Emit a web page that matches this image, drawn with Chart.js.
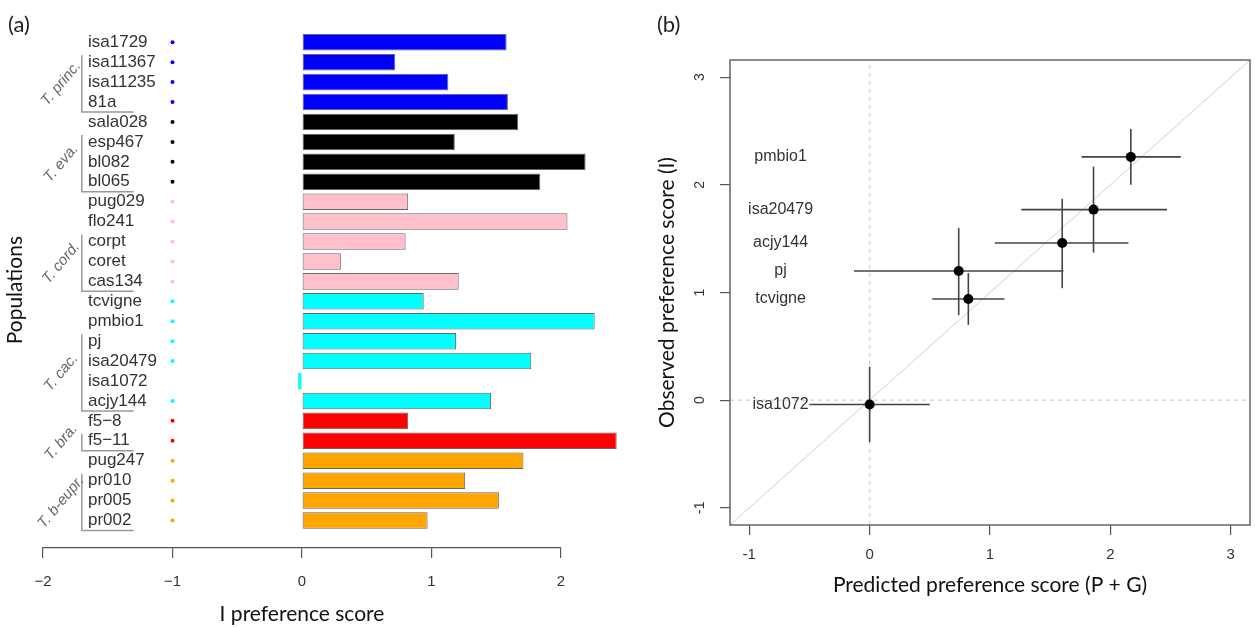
<!DOCTYPE html>
<html lang="en">
<head>
  <meta charset="UTF-8" />
  <title>Preference scores</title>
  <script src="https://cdn.jsdelivr.net/npm/chart.js"></script>
  <style>
    body {
      margin: 0;
      background: #fff;
    }
    .figure {
      position: relative;
      width: 1255px;
      height: 627px;
    }
    .panel-tag {
      position: absolute;
      top: 10px;
      font-family: Lato, sans-serif;
      font-size: 22px;
      color: #222;
    }
    #chartA { position: absolute; left: 0; top: 0; }
    #chartB { position: absolute; left: 640px; top: 0; }
  </style>
</head>
<body>
  <div class="figure">
    <canvas id="chartA" width="640" height="627"></canvas>
    <canvas id="chartB" width="615" height="627"></canvas>
    <div class="panel-tag" style="left: 8px;">(a)</div>
    <div class="panel-tag" style="left: 657px;">(b)</div>
  </div>

  <script>
    // ---- panel (a): I preference score per population ----
    const populations = ['isa1729', 'isa11367', 'isa11235', '81a', 'sala028', 'esp467', 'bl082', 'bl065',
      'pug029', 'flo241', 'corpt', 'coret', 'cas134', 'tcvigne', 'pmbio1', 'pj', 'isa20479', 'isa1072',
      'acjy144', 'f5\u22128', 'f5\u221211', 'pug247', 'pr010', 'pr005', 'pr002'];
    const iScores = [1.58, 0.72, 1.13, 1.59, 1.67, 1.18, 2.19, 1.84,
      0.82, 2.05, 0.80, 0.30, 1.21, 0.94, 2.26, 1.19, 1.77, -0.03,
      1.46, 0.82, 2.43, 1.71, 1.26, 1.52, 0.97];
    const barColors = ['#0000ff', '#0000ff', '#0000ff', '#0000ff', '#000000', '#000000', '#000000', '#000000',
      '#ffc0cb', '#ffc0cb', '#ffc0cb', '#ffc0cb', '#ffc0cb', '#00ffff', '#00ffff', '#00ffff', '#00ffff', '#00ffff',
      '#00ffff', '#ff0000', '#ff0000', '#ffa500', '#ffa500', '#ffa500', '#ffa500'];
    // small marker dots at -1 (none for isa1072)
    const dotX = [-1, -1, -1, -1, -1, -1, -1, -1, -1, -1, -1, -1, -1, -1, -1, -1, -1, null, -1, -1, -1, -1, -1, -1, -1];
    const speciesGroups = [
      { name: 'T. princ.', first: 1, last: 3 },
      { name: 'T. eva.', first: 5, last: 7 },
      { name: 'T. cord.', first: 10, last: 12 },
      { name: 'T. cac.', first: 15, last: 18 },
      { name: 'T. bra.', first: 20, last: 20 },
      { name: 'T. b-eupr.', first: 22, last: 24 }
    ];

    // ---- panel (b): observed vs predicted ----
    const predLabels = ['pmbio1', 'isa20479', 'acjy144', 'pj', 'tcvigne', 'isa1072'];
    const predicted = [2.17, 1.86, 1.60, 0.74, 0.82, 0.00];
    const predLow = [1.76, 1.26, 1.04, -0.13, 0.52, -0.50];
    const predHigh = [2.585, 2.47, 2.15, 1.61, 1.12, 0.50];
    const observed = [2.26, 1.77, 1.46, 1.20, 0.94, -0.04];
    const obsLow = [2.00, 1.37, 1.04, 0.79, 0.70, -0.39];
    const obsHigh = [2.52, 2.17, 1.87, 1.60, 1.18, 0.31];
    const axisRange = [-1.16, 3.16];

    const tickFont = { family: 'Liberation Sans, Arial, sans-serif', size: 15 };
    const titleFont = { family: 'Lato, sans-serif', size: 21 };

    const bracketPlugin = {
      id: 'brackets',
      afterDraw(chart) {
        const { ctx, scales: { x, y } } = chart;
        const bx = x.getPixelForValue(-1.70);
        const ex = x.getPixelForValue(-1.30);
        const lx = x.getPixelForValue(-1.86);
        ctx.save();
        ctx.strokeStyle = '#999';
        ctx.lineWidth = 1.5;
        ctx.fillStyle = '#666';
        ctx.font = 'italic 15px "Liberation Sans", Arial, sans-serif';
        ctx.textAlign = 'center';
        ctx.textBaseline = 'middle';
        speciesGroups.forEach(g => {
          const top = y.getPixelForValue(g.first - 0.35);
          const bot = y.getPixelForValue(g.last + 0.5);
          ctx.beginPath();
          ctx.moveTo(bx, top);
          ctx.lineTo(bx, bot);
          ctx.lineTo(ex, bot);
          ctx.stroke();
          ctx.save();
          ctx.translate(lx, (top + bot) / 2);
          ctx.rotate(-50 * Math.PI / 180);
          ctx.fillText(g.name, 0, 0);
          ctx.restore();
        });
        ctx.restore();
      }
    };

    const dotPoints = [];
    const dotColors = [];
    dotX.forEach((v, i) => {
      if (v !== null) {
        dotPoints.push({ x: v, y: i });
        dotColors.push(barColors[i]);
      }
    });

    new Chart(document.getElementById('chartA'), {
      type: 'bar',
      data: {
        datasets: [{
          type: 'bar',
          data: iScores.map((v, i) => ({ x: v, y: i })),
          backgroundColor: barColors,
          borderColor: '#666',
          // the tiny isa1072 sliver shows only its fill
          borderWidth: c => (Math.abs(iScores[c.dataIndex]) < 0.05 ? 0 : 1),
          borderSkipped: false,
          barPercentage: 0.83,
          categoryPercentage: 1,
          clip: false
        }, {
          type: 'scatter',
          data: dotPoints,
          pointBackgroundColor: dotColors,
          pointBorderWidth: 0,
          pointRadius: 2
        }]
      },
      options: {
        indexAxis: 'y',
        responsive: false,
        animation: false,
        devicePixelRatio: 1,
        layout: { padding: { top: 32.3, right: 79, bottom: 0, left: 0 } },
        plugins: { legend: { display: false }, tooltip: { enabled: false } },
        scales: {
          x: {
            type: 'linear',
            offset: false,
            min: -2,
            max: 2,
            ticks: { stepSize: 1, font: tickFont, color: '#333', padding: 15,
              callback: v => String(v).replace('-', '\u2212') },
            grid: { offset: false, drawOnChartArea: false, tickLength: 10, color: '#555', lineWidth: 1.2 },
            border: { display: true, color: '#555', width: 1.2 },
            title: { display: true, text: 'I preference score', font: titleFont, color: '#111', padding: { top: 0, bottom: 0 } },
            afterFit: s => { s.height = 79; }
          },
          y: {
            type: 'linear',
            offset: false,
            reverse: true,
            min: -0.5,
            max: 25.38,
            afterBuildTicks: s => { s.ticks = populations.map((_, i) => ({ value: i })); },
            ticks: { mirror: true, padding: 45, color: '#333', autoSkip: false,
              font: { family: 'Liberation Sans, Arial, sans-serif', size: 17 },
              callback: v => populations[v] },
            grid: { display: false, offset: false },
            border: { display: false },
            title: { display: true, text: 'Populations', font: titleFont, color: '#111', padding: { top: 2.4, bottom: 0 } },
            // label padding is only used to push the names inward, not to pad the plot
            afterFit: s => { s.width = 43; s.paddingTop = 0; s.paddingBottom = 0; }
          }
        }
      },
      plugins: [bracketPlugin]
    });

    const boxPlugin = {
      id: 'box',
      afterDraw(chart) {
        const { ctx, chartArea: a } = chart;
        ctx.save();
        ctx.strokeStyle = '#666';
        ctx.lineWidth = 1.5;
        ctx.strokeRect(a.left, a.top, a.right - a.left, a.bottom - a.top);
        ctx.restore();
      }
    };

    const pointLabelPlugin = {
      id: 'pointLabels',
      afterDatasetsDraw(chart) {
        const { ctx, scales: { x, y } } = chart;
        ctx.save();
        ctx.fillStyle = '#333';
        ctx.font = '16px "Liberation Sans", Arial, sans-serif';
        ctx.textAlign = 'center';
        ctx.textBaseline = 'middle';
        predLabels.forEach((name, i) => {
          ctx.fillText(name, x.getPixelForValue(-0.74), y.getPixelForValue(observed[i]));
        });
        ctx.restore();
      }
    };

    const errorBars = [];
    predLabels.forEach((_, i) => {
      errorBars.push({
        data: [{ x: predLow[i], y: observed[i] }, { x: predHigh[i], y: observed[i] }],
        showLine: true, borderColor: '#444', borderWidth: 1.6, pointRadius: 0
      });
      errorBars.push({
        data: [{ x: predicted[i], y: obsLow[i] }, { x: predicted[i], y: obsHigh[i] }],
        showLine: true, borderColor: '#444', borderWidth: 1.6, pointRadius: 0
      });
    });

    new Chart(document.getElementById('chartB'), {
      type: 'scatter',
      data: {
        datasets: [{
          data: predicted.map((v, i) => ({ x: v, y: observed[i] })),
          pointBackgroundColor: '#000',
          pointBorderWidth: 0,
          pointRadius: 5
        },
        ...errorBars,
        {
          data: axisRange.map(v => ({ x: 0, y: v })),
          showLine: true, borderColor: '#c8c8c8', borderWidth: 1, borderDash: [4, 4], pointRadius: 0
        }, {
          data: axisRange.map(v => ({ x: v, y: 0 })),
          showLine: true, borderColor: '#c8c8c8', borderWidth: 1, borderDash: [4, 4], pointRadius: 0
        }, {
          data: axisRange.map(v => ({ x: v, y: v })),
          showLine: true, borderColor: '#d0d0d0', borderWidth: 1, pointRadius: 0
        }]
      },
      options: {
        responsive: false,
        animation: false,
        devicePixelRatio: 1,
        layout: { padding: { top: 60, right: 2.5, bottom: 0, left: 0 } },
        plugins: { legend: { display: false }, tooltip: { enabled: false } },
        scales: {
          x: {
            type: 'linear',
            min: axisRange[0],
            max: axisRange[1],
            ticks: { stepSize: 1, includeBounds: false, font: tickFont, color: '#333', padding: 11 },
            grid: { drawOnChartArea: false, tickLength: 10, color: '#555', lineWidth: 1.2 },
            border: { display: false },
            title: { display: true, text: 'Predicted preference score (P + G)', font: titleFont, color: '#111', padding: { top: 0, bottom: 29.4 } },
            afterFit: s => { s.height = 102; }
          },
          y: {
            type: 'linear',
            min: axisRange[0],
            max: axisRange[1],
            ticks: { stepSize: 1, includeBounds: false, color: '#333', padding: 14,
              font: { family: 'Liberation Sans, Arial, sans-serif', size: 14 },
              minRotation: 90, maxRotation: 90, crossAlign: 'center' },
            grid: { drawOnChartArea: false, tickLength: 10, color: '#555', lineWidth: 1.2 },
            border: { display: false },
            title: { display: true, text: 'Observed preference score (I)', font: titleFont, color: '#111', padding: { top: 14.4, bottom: 0 } },
            afterFit: s => { s.width = 90; }
          }
        }
      },
      plugins: [boxPlugin, pointLabelPlugin]
    });
  </script>
</body>
</html>
